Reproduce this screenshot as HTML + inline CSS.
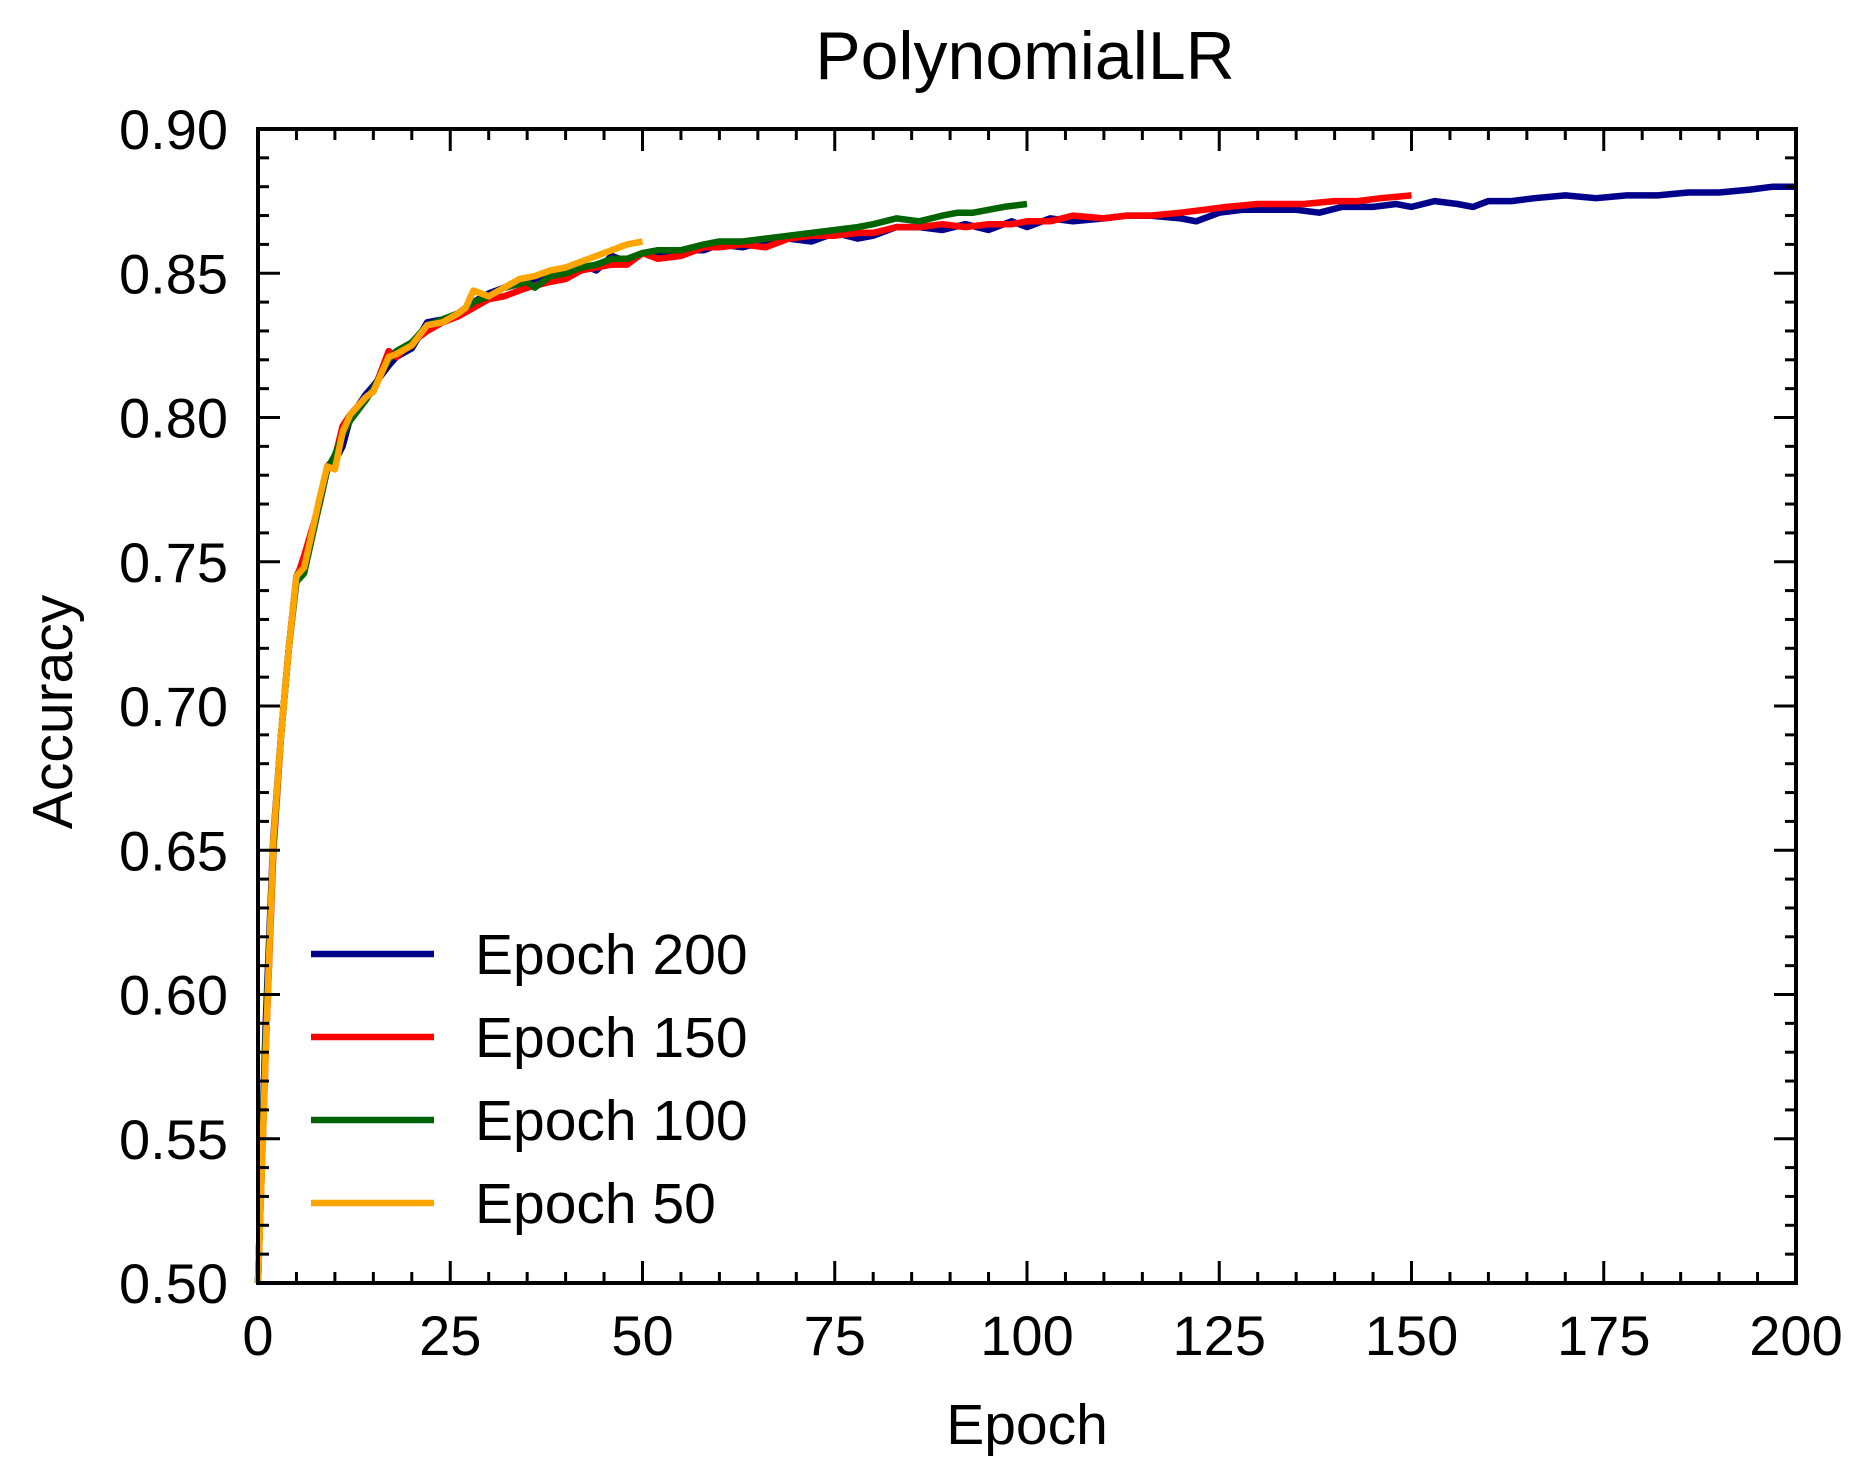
<!DOCTYPE html>
<html><head><meta charset="utf-8"><style>
html,body{margin:0;padding:0;background:#fff}
svg{display:block;font-family:"Liberation Sans",Arial,sans-serif}
</style></head><body>
<svg id="chart" width="1872" height="1484" viewBox="0 0 1872 1484" xmlns="http://www.w3.org/2000/svg">
<text x="1025" y="79" font-size="68" text-anchor="middle">PolynomialLR</text>
<text x="1027" y="1444" font-size="57" text-anchor="middle">Epoch</text>
<text x="0" y="0" font-size="57" text-anchor="middle" transform="translate(72,712) rotate(-90)">Accuracy</text>
<g id="series"></g>
<g id="axes"></g>
<g id="legend"></g>
</svg>
<script>
const xTicks=[0,25,50,75,100,125,150,175,200];
const yTicks=[0.50,0.55,0.60,0.65,0.70,0.75,0.80,0.85,0.90];
const yTickLabels=["0.50","0.55","0.60","0.65","0.70","0.75","0.80","0.85","0.90"];
const seriesNames=["Epoch 200","Epoch 150","Epoch 100","Epoch 50"];
const e200x=[0,1,2,3,4,5,6,8,9,10,11,12,14,15,17,18,20,22,24,26,28,30,32,35,38,40,42,44,46,48,50,52,55,58,60,63,66,69,72,75,78,80,83,86,89,92,95,98,100,103,106,110,113,116,120,122,125,128,132,135,138,141,145,148,150,153,156,158,160,163,166,170,174,178,182,186,190,194,197,200];
const e200y=[0.50,0.59,0.655,0.69,0.72,0.745,0.75,0.77,0.782,0.785,0.79,0.80,0.808,0.811,0.818,0.821,0.824,0.833,0.834,0.836,0.84,0.843,0.845,0.847,0.85,0.851,0.853,0.851,0.856,0.854,0.857,0.856,0.858,0.858,0.86,0.859,0.861,0.862,0.861,0.864,0.862,0.863,0.866,0.866,0.865,0.867,0.865,0.868,0.866,0.869,0.868,0.869,0.87,0.87,0.869,0.868,0.871,0.872,0.872,0.872,0.871,0.873,0.873,0.874,0.873,0.875,0.874,0.873,0.875,0.875,0.876,0.877,0.876,0.877,0.877,0.878,0.878,0.879,0.880,0.880];
const e150x=[0,1,2,3,4,5,6,8,9,10,11,12,14,15,17,18,20,22,24,26,28,30,32,35,38,40,42,44,46,48,50,52,55,58,60,63,66,69,72,75,78,80,83,86,89,92,95,98,100,103,106,110,113,116,120,123,126,130,133,136,140,143,146,150];
const e150y=[0.50,0.58,0.65,0.69,0.72,0.744,0.752,0.77,0.783,0.786,0.797,0.801,0.807,0.809,0.823,0.821,0.826,0.83,0.833,0.835,0.838,0.841,0.842,0.845,0.847,0.848,0.851,0.852,0.853,0.853,0.857,0.855,0.856,0.859,0.859,0.86,0.859,0.862,0.863,0.863,0.864,0.864,0.866,0.866,0.867,0.866,0.867,0.867,0.868,0.868,0.87,0.869,0.87,0.87,0.871,0.872,0.873,0.874,0.874,0.874,0.875,0.875,0.876,0.877];
const e100x=[0,1,2,3,4,5,6,8,9,10,11,12,14,15,17,18,20,22,24,26,28,30,32,35,36,38,40,42,44,46,48,50,52,55,58,60,63,66,69,72,75,78,80,83,86,89,91,93,95,97,100];
const e100y=[0.50,0.585,0.652,0.69,0.72,0.743,0.746,0.77,0.782,0.787,0.794,0.799,0.806,0.81,0.82,0.823,0.826,0.832,0.834,0.836,0.84,0.842,0.845,0.847,0.845,0.849,0.85,0.852,0.853,0.855,0.855,0.857,0.858,0.858,0.86,0.861,0.861,0.862,0.863,0.864,0.865,0.866,0.867,0.869,0.868,0.87,0.871,0.871,0.872,0.873,0.874];
const e50x=[0,1,2,3,4,5,6,8,9,10,11,12,14,15,17,18,20,22,24,26,27,28,30,32,34,36,38,40,42,44,46,48,50];
const e50y=[0.50,0.58,0.654,0.69,0.72,0.745,0.748,0.772,0.783,0.782,0.795,0.801,0.807,0.809,0.821,0.822,0.825,0.832,0.833,0.836,0.838,0.844,0.842,0.845,0.848,0.849,0.851,0.852,0.854,0.856,0.858,0.86,0.861];
const colors=["#00008b","#ff0000","#006400","#ffa500"];
const L=258,R=1796,T=129,B=1283;
function xs(v){return L+(v-0)/(200-0)*(R-L);}
function ys(v){return B-(v-0.5)/(0.9-0.5)*(B-T);}
const NS="http://www.w3.org/2000/svg";
function mk(tag,attrs,parent){const e=document.createElementNS(NS,tag);for(const k in attrs)e.setAttribute(k,attrs[k]);parent.appendChild(e);return e;}
const sg=document.getElementById('series');
const data=[[e200x,e200y],[e150x,e150y],[e100x,e100y],[e50x,e50y]];
data.forEach((d,i)=>{
  const pts=d[0].map((x,j)=>xs(x).toFixed(1)+','+ys(d[1][j]).toFixed(1)).join(' ');
  const pl=mk('polyline',{points:pts,fill:'none',stroke:colors[i],'stroke-width':6.5,'stroke-linejoin':'round'},sg);
  
  
});
const ag=document.getElementById('axes');
const frame=mk('rect',{x:L,y:T,width:R-L,height:B-T,fill:'none',stroke:'#000','stroke-width':4},ag);


for(let v=0;v<=200;v+=5){
  const major=v%25===0,len=major?22:11,x=xs(v);
  const t1=mk('line',{x1:x,y1:B,x2:x,y2:B-len,stroke:'#000','stroke-width':3},ag);
  
  
  const t2=mk('line',{x1:x,y1:T,x2:x,y2:T+len,stroke:'#000','stroke-width':3},ag);
  
  
}
xTicks.forEach(v=>{
  const t=mk('text',{x:xs(v),y:1355,'font-size':56,'text-anchor':'middle'},ag);t.textContent=v;
  
  
});
for(let k=0;k<=40;k++){
  const v=0.5+k*0.01,major=k%5===0,len=major?22:11,y=ys(v);
  const t1=mk('line',{x1:L,y1:y,x2:L+len,y2:y,stroke:'#000','stroke-width':3},ag);
  
  
  const t2=mk('line',{x1:R,y1:y,x2:R-len,y2:y,stroke:'#000','stroke-width':3},ag);
  
  
}
yTicks.forEach((v,i)=>{
  const t=mk('text',{x:228,y:ys(v)+20,'font-size':56,'text-anchor':'end'},ag);t.textContent=yTickLabels[i];
  
  
});
const lg=document.getElementById('legend');
seriesNames.forEach((n,i)=>{
  const y=954+i*83;
  const ln=mk('line',{x1:311,y1:y,x2:434,y2:y,stroke:colors[i],'stroke-width':6.5},lg);
  
  
  const t=mk('text',{x:475,y:y+20,'font-size':57},lg);t.textContent=n;
  
  
});
</script>
</body></html>
